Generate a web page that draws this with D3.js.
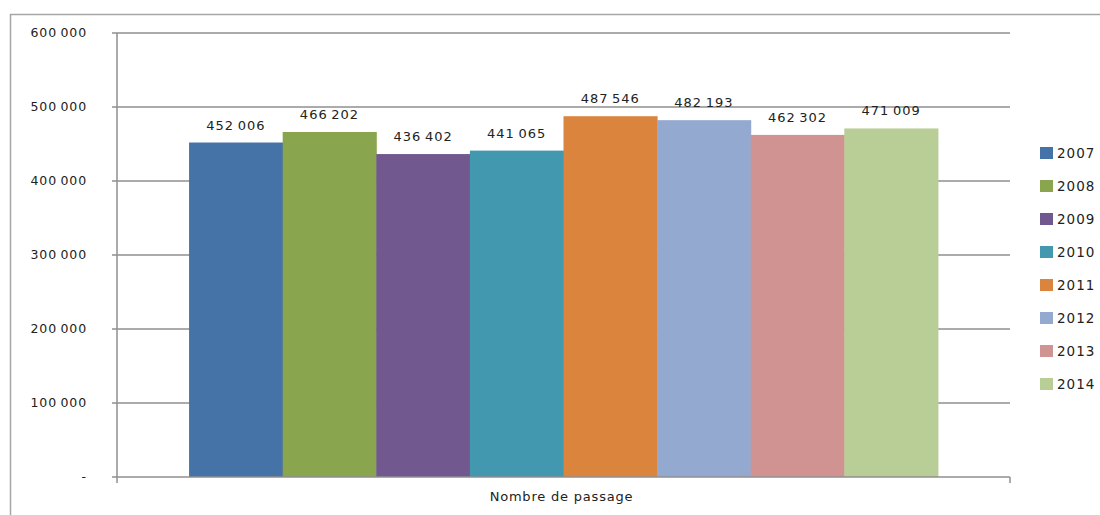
<!DOCTYPE html>
<html>
<head>
<meta charset="utf-8">
<script src="https://cdn.jsdelivr.net/npm/d3@7"></script>
<style>
  body { margin: 0; background: #fff; }
  text { font-family: "DejaVu Sans", sans-serif; fill: #222; }
</style>
</head>
<body>
<div id="chart"></div>
<script>
// data ---------------------------------------------------------------
const category = "Nombre de passage";
const years = ["2007", "2008", "2009", "2010", "2011", "2012", "2013", "2014"];
const values = [452006, 466202, 436402, 441065, 487546, 482193, 462302, 471009];
const colors = ["#4572A7", "#89A54E", "#71588F", "#4198AF", "#DB843D", "#93A9CF", "#D19392", "#B9CD96"];
const yTicks = [0, 100000, 200000, 300000, 400000, 500000, 600000];

const width = 1100, height = 515;
const plot = {left: 117, right: 1010, top: 33, bottom: 477};

const svg = d3.select("#chart").append("svg")
    .attr("width", width)
    .attr("height", height);

// outer chart border (only top and left are visible in the frame)
svg.append("path")
    .attr("d", `M10.5,${height} V14.5 H${width}`)
    .attr("fill", "none")
    .attr("stroke", "#a6a6a6")
    .attr("stroke-width", 1.5);

const fr = d3.formatLocale({decimal: ",", thousands: "\u2009", grouping: [3]});
const fmt = fr.format(",d");

const y = d3.scaleLinear().domain([0, 600000]).range([plot.bottom, plot.top]);
const x0 = d3.scaleBand().domain([category]).range([plot.left, plot.right]);
const x1 = d3.scaleBand().domain(years).range([0, x0.bandwidth()])
    .paddingInner(0).paddingOuter(0.77);

// gridlines + tick marks
svg.append("g")
  .selectAll("line")
  .data(yTicks.filter(d => d > 0))
  .join("line")
    .attr("x1", plot.left - 5)
    .attr("x2", plot.right)
    .attr("y1", d => y(d))
    .attr("y2", d => y(d))
    .attr("stroke", "#8f8f8f")
    .attr("stroke-width", 1.5);

// y tick labels
svg.append("g")
  .selectAll("text")
  .data(yTicks)
  .join("text")
    .attr("x", 87)
    .attr("y", d => y(d))
    .attr("dy", "0.35em")
    .attr("text-anchor", "end")
    .style("font-size", "12.5px")
    .style("letter-spacing", "0.9px")
    .text(d => d === 0 ? "-" : fmt(d));

// bars
const g = svg.append("g").attr("transform", `translate(${x0(category)},0)`);
g.selectAll("rect")
  .data(years)
  .join("rect")
    .attr("x", d => x1(d))
    .attr("width", x1.bandwidth() + 0.5)
    .attr("y", (d, i) => y(values[i]))
    .attr("height", (d, i) => y(0) - y(values[i]))
    .attr("fill", (d, i) => colors[i]);

// value labels
g.selectAll("text.val")
  .data(years)
  .join("text")
    .attr("class", "val")
    .attr("x", d => x1(d) + x1.bandwidth() / 2)
    .attr("y", (d, i) => y(values[i]) - 13)
    .attr("text-anchor", "middle")
    .style("font-size", "13px")
    .style("letter-spacing", "1px")
    .text((d, i) => fmt(values[i]));

// axes lines
svg.append("line")
    .attr("x1", plot.left).attr("x2", plot.left)
    .attr("y1", plot.top).attr("y2", plot.bottom + 6)
    .attr("stroke", "#8f8f8f").attr("stroke-width", 1.5);
svg.append("line")
    .attr("x1", plot.left - 5).attr("x2", plot.right)
    .attr("y1", plot.bottom).attr("y2", plot.bottom)
    .attr("stroke", "#8f8f8f").attr("stroke-width", 1.5);
svg.append("line")
    .attr("x1", plot.right).attr("x2", plot.right)
    .attr("y1", plot.bottom).attr("y2", plot.bottom + 6)
    .attr("stroke", "#8f8f8f").attr("stroke-width", 1.5);

// x label
svg.append("text")
    .attr("x", x0(category) + x0.bandwidth() / 2 - 2)
    .attr("y", 501)
    .attr("text-anchor", "middle")
    .style("font-size", "13px")
    .style("letter-spacing", "0.8px")
    .text(category);

// legend
const legend = svg.append("g")
  .selectAll("g")
  .data(years)
  .join("g")
    .attr("transform", (d, i) => `translate(1040,${153 + i * 33})`);
legend.append("rect")
    .attr("x", 0).attr("y", -6)
    .attr("width", 13).attr("height", 12)
    .attr("fill", (d, i) => colors[i]);
legend.append("text")
    .attr("x", 17)
    .attr("dy", "0.4em")
    .style("font-size", "13.5px")
    .style("letter-spacing", "1px")
    .text(d => d);
</script>
</body>
</html>
